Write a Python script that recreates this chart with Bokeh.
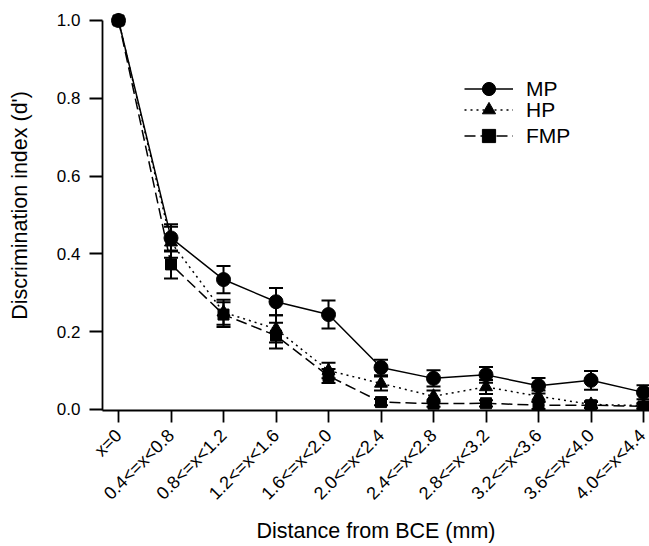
from bokeh.plotting import figure
from bokeh.models import (Range1d, FixedTicker, PrintfTickFormatter, Whisker, TeeHead,
                          ColumnDataSource, Legend, LegendItem)
from bokeh.embed import file_html
from bokeh.resources import INLINE
import math

categories = ["x=0", "0.4<=x<0.8", "0.8<=x<1.2", "1.2<=x<1.6", "1.6<=x<2.0",
              "2.0<=x<2.4", "2.4<=x<2.8", "2.8<=x<3.2", "3.2<=x<3.6",
              "3.6<=x<4.0", "4.0<=x<4.4"]
mp = [1.0, 0.441, 0.334, 0.277, 0.244, 0.108, 0.080, 0.089, 0.061, 0.075, 0.044]
mp_err = [0.0, 0.035, 0.035, 0.035, 0.036, 0.020, 0.021, 0.020, 0.020, 0.024, 0.018]
hp = [1.0, 0.430, 0.250, 0.207, 0.100, 0.067, 0.034, 0.058, 0.034, 0.013, 0.010]
hp_err = [0.0, 0.040, 0.032, 0.035, 0.020, 0.018, 0.015, 0.018, 0.015, 0.008, 0.007]
fmp = [1.0, 0.373, 0.244, 0.190, 0.086, 0.019, 0.015, 0.016, 0.011, 0.011, 0.008]
fmp_err = [0.0, 0.036, 0.032, 0.033, 0.018, 0.008, 0.008, 0.008, 0.010, 0.008, 0.006]
y_ticks = [0.0, 0.2, 0.4, 0.6, 0.8, 1.0]

FONT = "Liberation Sans"
x = list(range(len(categories)))

p = figure(width=649, height=546, output_backend="svg", toolbar_location=None,
           x_range=Range1d(-0.305, 10.114), y_range=Range1d(-0.0026, 1.0514),
           min_border_left=102, min_border_right=0, min_border_top=0,
           min_border_bottom=136)
p.outline_line_color = None
p.grid.visible = False
p.background_fill_color = "white"

series = [
    ("MP", mp, mp_err, "circle", 14, "solid"),
    ("HP", hp, hp_err, "triangle", 13, "2 4"),
    ("FMP", fmp, fmp_err, "square", 11, "11 5"),
]

items = []
for name, vals, errs, marker, size, dash in series:
    src = ColumnDataSource(dict(x=x, y=vals))
    lr = p.line("x", "y", source=src, line_color="black", line_width=1.5, line_dash=dash)
    wsrc = ColumnDataSource(dict(
        x=x[1:],
        upper=[v + e for v, e in zip(vals[1:], errs[1:])],
        lower=[v - e for v, e in zip(vals[1:], errs[1:])]))
    w = Whisker(base="x", upper="upper", lower="lower", source=wsrc,
                line_color="black", line_width=2,
                upper_head=TeeHead(size=14, line_color="black", line_width=2),
                lower_head=TeeHead(size=14, line_color="black", line_width=2))
    p.add_layout(w)
    sr = p.scatter("x", "y", source=src, marker=marker, size=size,
                   fill_color="black", line_color="black")
    items.append((name, [lr, sr]))

# axes
p.xaxis.ticker = FixedTicker(ticks=x)
p.xaxis.major_label_overrides = {i: c for i, c in enumerate(categories)}
p.xaxis.major_label_orientation = math.pi / 4
p.xaxis.axis_label = "Distance from BCE (mm)"
p.yaxis.ticker = FixedTicker(ticks=y_ticks)
p.yaxis.formatter = PrintfTickFormatter(format="%.1f")
p.yaxis.axis_label = "Discrimination index (d')"
p.yaxis.bounds = (-0.0026, 1.0)

for ax in (p.xaxis, p.yaxis):
    ax.axis_line_color = "black"
    ax.axis_line_width = 1.8
    ax.major_tick_line_color = "black"
    ax.major_tick_line_width = 1.8
    ax.major_tick_in = 0
    ax.minor_tick_line_color = None
    ax.major_label_text_font = FONT
    ax.major_label_text_color = "black"
    ax.axis_label_text_font = FONT
    ax.axis_label_text_font_style = "normal"
    ax.axis_label_text_font_size = "21.5px"
    ax.axis_label_text_color = "black"

p.xaxis.major_tick_out = 12
p.yaxis.major_tick_out = 13
p.xaxis.major_label_text_font_size = "18px"
p.yaxis.major_label_text_font_size = "17px"
p.xaxis.major_label_standoff = 10
p.yaxis.major_label_standoff = 9
p.yaxis.axis_label_standoff = 22
p.xaxis.axis_label_standoff = 5

# legend: one entry per Legend so marker size and row spacing can be set
rows_y = [305, 284, 258]
for (name, rends), ly in zip(items, rows_y):
    lg = Legend(items=[LegendItem(label=name, renderers=rends)],
                location=(362, ly), glyph_width=49, glyph_height=33,
                label_standoff=13, padding=0, margin=0, spacing=0,
                border_line_color=None, background_fill_alpha=0,
                label_text_font=FONT, label_text_font_size="21px",
                label_text_color="black")
    p.add_layout(lg, "center")

open("out.html", "w").write(file_html(p, INLINE))
